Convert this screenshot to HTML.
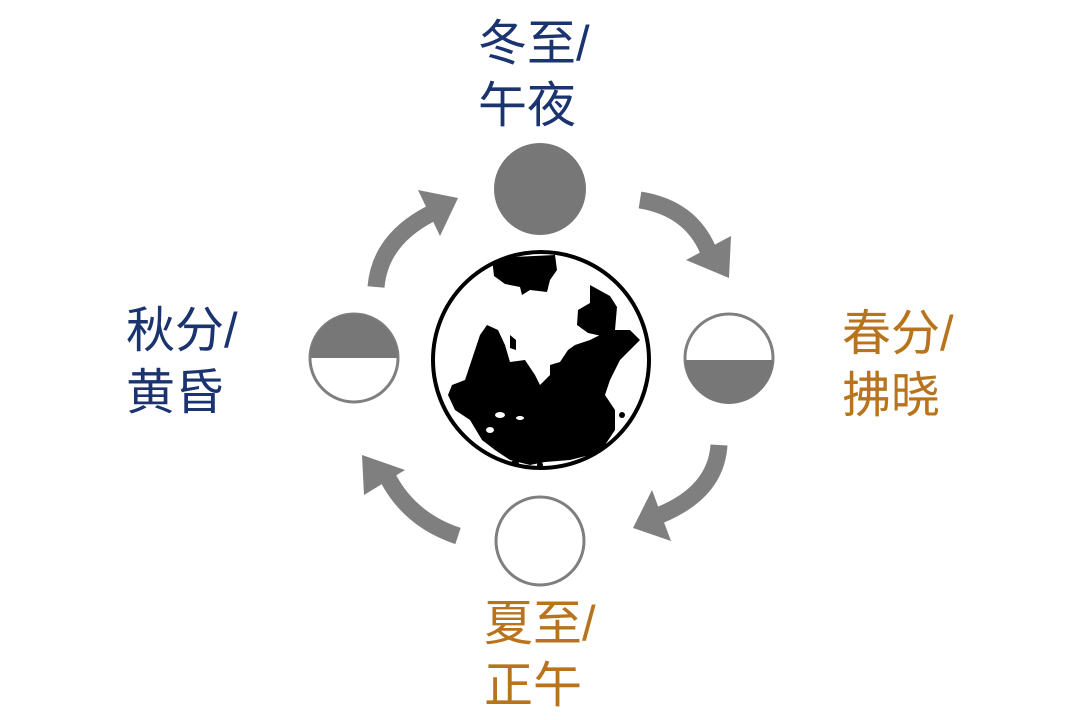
<!DOCTYPE html>
<html><head><meta charset="utf-8"><style>
html,body{margin:0;padding:0;background:#fff;}
body{width:1080px;height:720px;position:relative;overflow:hidden;}
.t{position:absolute;font-family:"Liberation Sans","Noto Sans CJK SC",sans-serif;font-size:49px;line-height:62px;white-space:nowrap;}
.b{color:#1b3470;}
.o{color:#b8741c;}
</style></head><body>
<svg width="1080" height="720" style="position:absolute;left:0;top:0">
<g fill="none" stroke="#7f7f7f" stroke-width="17" stroke-linecap="butt">
<path d="M376 287 Q380 240 430 214"/>
<path d="M640 200 Q690 208 708 250"/>
<path d="M719 445 Q716 492 660 515"/>
<path d="M458 536 Q410 520 388 478"/>
</g>
<g fill="#7f7f7f">
<polygon points="458,198 418,190 440,236"/>
<polygon points="729,278 731,236 686,260"/>
<polygon points="633,528 652,490 671,541"/>
<polygon points="362,455 405,470 364,495"/>
</g>
<circle cx="540" cy="189" r="46" fill="#777"/>
<circle cx="729" cy="358" r="44" fill="#fff" stroke="#7f7f7f" stroke-width="3"/>
<path d="M685 360 A44 44 0 0 0 773 360 Z" fill="#777"/>
<circle cx="354" cy="358" r="44" fill="#fff" stroke="#7f7f7f" stroke-width="3"/>
<path d="M310 358 A44 44 0 0 1 398 358 Z" fill="#777"/>
<circle cx="540" cy="541" r="44" fill="#fff" stroke="#7f7f7f" stroke-width="3"/>
<clipPath id="g"><circle cx="541" cy="360" r="107"/></clipPath>
<g clip-path="url(#g)" fill="#000">
<path d="M492 258 L555 255 L557 270 L550 280 L547 292 L530 290 L522 295 L520 287 L505 284 L494 276 Z"/>
<path d="M590 285 L610 296 L617 307 L615 330 L612 338 L602 336 L588 333 L577 325 L578 310 L590 303 Z"/>
<path d="M487 325 L498 330 L505 345 L510 362 L525 360 L535 375 L540 385 L550 375 L550 365 L560 362 L568 350 L575 345 L590 340 L600 335 L615 330 L630 330 L640 340 L630 350 L620 360 L610 380 L605 395 L615 410 L615 430 L605 445 L590 455 L570 460 L545 462 L530 465 L510 460 L495 450 L482 440 L470 420 L455 410 L448 395 L452 385 L465 380 L470 365 L475 350 L480 335 Z"/>
<path d="M510 335 L516 340 L516 350 L510 348 Z"/>
<circle cx="515" cy="464" r="4"/><circle cx="540" cy="465" r="3"/><circle cx="620" cy="440" r="5"/><circle cx="622" cy="415" r="3"/>
</g>
<g fill="#fff" clip-path="url(#g)">
<ellipse cx="500" cy="415" rx="5" ry="3"/><ellipse cx="520" cy="418" rx="4" ry="2"/><ellipse cx="490" cy="430" rx="4" ry="3"/>
</g>
<circle cx="541" cy="360" r="108" fill="none" stroke="#000" stroke-width="4"/>
</svg>
<div class="t b" style="left:478px;top:13px">冬至/<br>午夜</div>
<div class="t b" style="left:126px;top:300px">秋分/<br>黄昏</div>
<div class="t o" style="left:842px;top:303px">春分/<br>拂晓</div>
<div class="t o" style="left:484px;top:593px">夏至/<br>正午</div>
</body></html>
